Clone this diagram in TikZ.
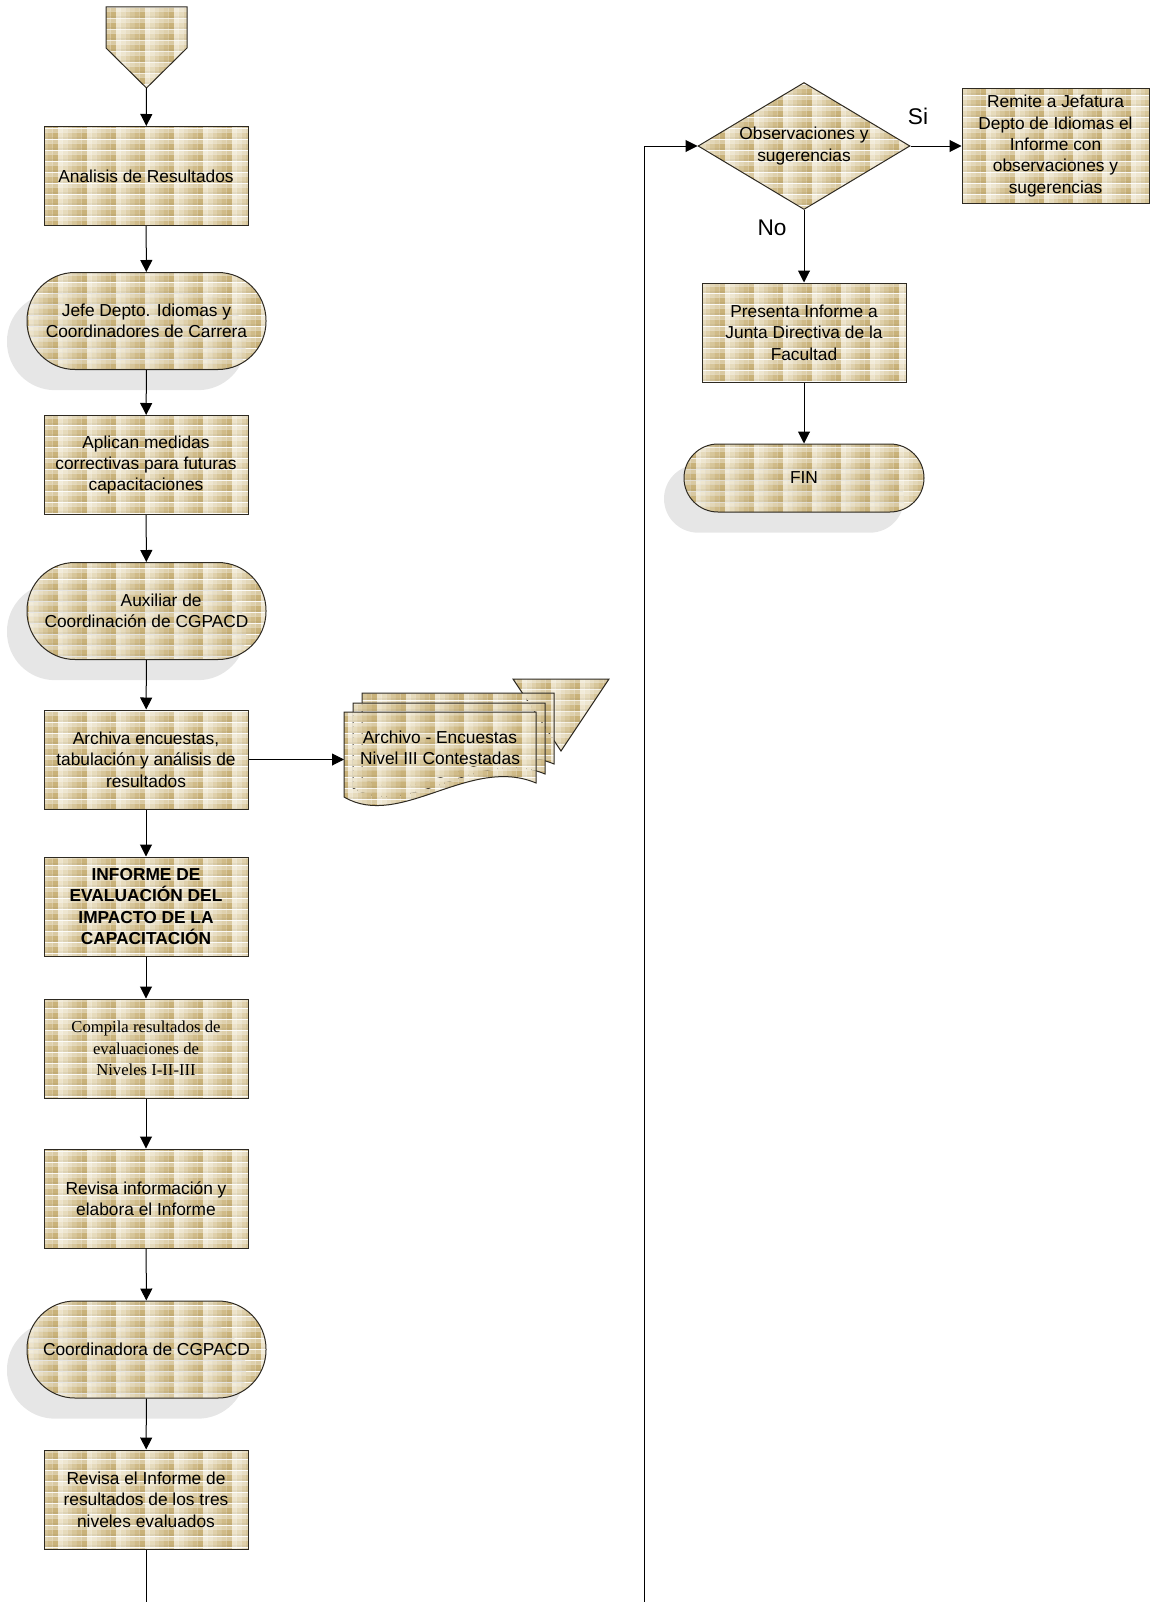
\documentclass[tikz,border=0pt]{standalone}
\usepackage{fontspec}
\setmainfont{Liberation Sans}
\newfontfamily\serifface{Liberation Serif}
\usetikzlibrary{arrows.meta,shapes.geometric,shadows,patterns}

\definecolor{tanlight}{HTML}{F3ECD8}
\definecolor{tandark}{HTML}{C9B27A}
\definecolor{shadowgray}{HTML}{E6E6E6}
\definecolor{edge}{HTML}{2E2A22}

% one vertical strip of a weave cell: light top band, plain middle, soft foot
\newcommand\weavestrip[3]{%
  \pgfsetfillcolor{#3!70!white}%
  \pgfpathrectangle{\pgfpoint{#1}{5.1pt}}{\pgfpoint{#2}{3.2pt}}\pgfusepath{fill}%
  \pgfsetfillcolor{#3}%
  \pgfpathrectangle{\pgfpoint{#1}{1.4pt}}{\pgfpoint{#2}{3.8pt}}\pgfusepath{fill}%
  \pgfsetfillcolor{#3!96!black}%
  \pgfpathrectangle{\pgfpoint{#1}{-0.05pt}}{\pgfpoint{#2}{1.5pt}}\pgfusepath{fill}}

% woven tile, 29 x 11 px
\pgfdeclarepatterninherentlycolored{weave}
  {\pgfpoint{0pt}{0pt}}{\pgfpoint{21.75pt}{8.25pt}}
  {\pgfpoint{21.75pt}{8.25pt}}
  {%
    \weavestrip{-0.05pt}{3.7pt}{tandark!15!tanlight}%
    \weavestrip{3.6pt}{3.7pt}{tandark!30!tanlight}%
    \weavestrip{7.25pt}{3.7pt}{tandark!48!tanlight}%
    \weavestrip{10.9pt}{3.7pt}{tandark!66!tanlight}%
    \weavestrip{14.55pt}{3.7pt}{tandark!84!tanlight}%
    \weavestrip{18.2pt}{3.65pt}{tandark}%
  }

\tikzset{
  weavefill/.style={pattern=weave},
  shapeline/.style={draw=edge, line width=0.75pt},
  labeltext/.style={font=\fontsize{13}{16}\selectfont, align=center},
  procbox/.style={shapeline, weavefill, labeltext, inner sep=2pt,
    minimum width=153pt, minimum height=74.25pt},
  termbox/.style={procbox, rounded corners=36pt, minimum width=179.25pt,
    minimum height=72.75pt,
    drop shadow={shadow xshift=-15pt, shadow yshift=-15.5pt, fill=shadowgray, opacity=1}},
  decision/.style={shape=diamond, shapeline, weavefill, labeltext, inner sep=0pt,
    aspect=1.67, minimum width=159pt, minimum height=95.25pt},
  conn/.style={draw=black, line width=0.75pt, -{Triangle[length=9pt,width=9pt]}},
  plain/.style={draw=black, line width=0.75pt},
  answer/.style={font=\fontsize{17}{20}\selectfont, inner sep=0pt},
}

\begin{document}
\begin{tikzpicture}[x=0.75pt, y=-0.75pt]
\useasboundingbox (0,0) rectangle (1151,1602);

% off-page entry connector
\path[shapeline, weavefill] (106,7) -- (187,7) -- (187,48) -- (146.5,88) -- (106,48) -- cycle;
\coordinate (start) at (146.5,88);

% left column
\node[procbox] (n1) at (146,176) {Analisis de Resultados};
\node[termbox] (t1) at (146.5,321) {Jefe Depto. Idiomas y\\Coordinadores de Carrera};
\node[procbox] (n2) at (146,465) {Aplican medidas\\correctivas para futuras\\capacitaciones};
\node[termbox] (t2) at (146.5,611) {\hspace*{22pt}Auxiliar de\\Coordinación de CGPACD};
\node[procbox] (n3) at (146,759.5) {Archiva encuestas,\\tabulación y análisis de\\resultados};
\node[procbox, font=\fontsize{13}{16}\selectfont\bfseries] (n4) at (146,906.5) {INFORME DE\\EVALUACIÓN DEL\\IMPACTO DE LA\\CAPACITACIÓN};
\node[procbox, font=\fontsize{12.5}{16}\selectfont\serifface] (n5) at (146,1048.5) {Compila resultados de\\evaluaciones de\\Niveles I-II-III};
\node[procbox] (n6) at (146,1198.5) {Revisa información y\\elabora el Informe};
\node[termbox] (t3) at (146.5,1349.5) {Coordinadora de CGPACD};
\node[procbox] (n7) at (146,1499.5) {Revisa el Informe de\\resultados de los tres\\niveles evaluados};
\coordinate (leftout) at (146,1602);

% archive triangle and stacked documents
\path[shapeline, weavefill] (513,679) -- (609,679) -- (561,751) -- cycle;
\foreach \dx/\dy in {362/693, 353/703, 344/712} {
  \path[shapeline, weavefill] (\dx,\dy) -- ++(192,0) -- ++(0,71)
    .. controls +(-66,-28) and +(56,33) .. (\dx,\dy+85) -- cycle;
}
\node[labeltext, inner sep=0pt] (doc) at (440,748) {Archivo - Encuestas\\Nivel III Contestadas};
\coordinate (docin) at (344,759.5);

% right column
\coordinate (rightin) at (644,1602);
\node[decision] (d) at (804,146) {Observaciones y\\sugerencias};
\node[procbox, minimum width=140.25pt, minimum height=86.25pt] (r1) at (1055.5,146)
  {Remite a Jefatura\\Depto de Idiomas el\\Informe con\\observaciones y\\sugerencias};
\node[procbox] (r2) at (804,332.5) {Presenta Informe a\\Junta Directiva de la\\Facultad};
\node[termbox, minimum width=180pt, minimum height=51pt, rounded corners=25.5pt] (fin) at (804,478) {FIN};
\node[answer] (si) at (918,116) {Si};
\node[answer] (no) at (772,228) {No};

% connectors
\draw[conn] (start) -- (n1);
\draw[conn] (n1) -- (t1);
\draw[conn] (t1) -- (n2);
\draw[conn] (n2) -- (t2);
\draw[conn] (t2) -- (n3);
\draw[conn] (n3) -- (n4);
\draw[conn] (n4) -- (n5);
\draw[conn] (n5) -- (n6);
\draw[conn] (n6) -- (t3);
\draw[conn] (t3) -- (n7);
\draw[plain] (n7) -- (leftout);
\draw[conn] (n3.east) -- (docin);
\draw[conn] (rightin) |- (d.west);
\draw[conn] (d.east) -- (r1.west);
\draw[conn] (d.south) -- (r2.north);
\draw[conn] (r2) -- (fin);
\end{tikzpicture}
\end{document}
